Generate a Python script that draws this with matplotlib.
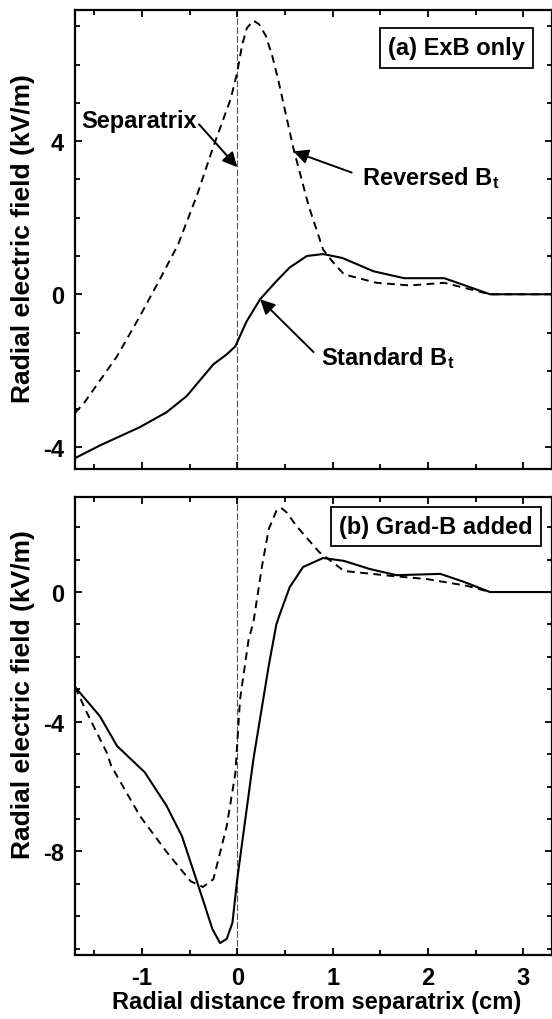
import matplotlib
matplotlib.use("Agg")
import matplotlib.pyplot as plt
from matplotlib.ticker import MultipleLocator

plt.rcParams['font.family'] = ['Liberation Sans', 'DejaVu Sans']
plt.rcParams['font.weight'] = 'bold'
plt.rcParams['axes.unicode_minus'] = False
plt.rcParams['mathtext.fontset'] = 'custom'
plt.rcParams['mathtext.rm'] = 'Liberation Sans:bold'
plt.rcParams['mathtext.it'] = 'Liberation Sans:bold'
plt.rcParams['mathtext.bf'] = 'Liberation Sans:bold'
plt.rcParams['mathtext.default'] = 'regular'

# (a) ExB only - standard Bt (solid)
xa_std = [-1.7, -1.44, -1.02, -0.74, -0.53, -0.25, -0.11, -0.02, 0.1, 0.24, 0.41, 0.55, 0.73, 0.9, 1.1,
          1.43, 1.75, 2.17, 2.4, 2.65, 3.3]
ea_std = [-4.28, -3.95, -3.47, -3.08, -2.66, -1.83, -1.57, -1.36, -0.7, -0.13, 0.34, 0.7, 1.0, 1.05, 0.95,
          0.6, 0.42, 0.42, 0.22, 0.0, 0.0]

# (a) ExB only - reversed Bt (dashed)
xa_rev = [-1.7, -1.6, -1.26, -1.02, -0.82, -0.62, -0.42, -0.25, -0.07, 0.0, 0.05, 0.1, 0.17, 0.23, 0.3,
          0.37, 0.43, 0.59, 0.75, 0.9, 1.0, 1.12, 1.46, 1.81, 2.17, 2.41, 2.65, 3.3]
ea_rev = [-3.1, -2.82, -1.62, -0.57, 0.35, 1.3, 2.6, 3.86, 5.09, 5.8, 6.5, 6.95, 7.15, 7.05, 6.75,
          6.2, 5.6, 3.8, 2.3, 1.17, 0.85, 0.52, 0.3, 0.23, 0.3, 0.15, 0.0, 0.0]

# (b) Grad-B added - standard Bt (solid)
xb_std = [-1.7, -1.44, -1.26, -0.97, -0.74, -0.58, -0.42, -0.26, -0.18, -0.11, -0.05, 0.0, 0.17, 0.33,
          0.41, 0.44, 0.55, 0.69, 0.9, 1.12, 1.39, 1.67, 2.13, 2.38, 2.65, 3.3]
eb_std = [-2.93, -3.83, -4.75, -5.56, -6.6, -7.53, -8.95, -10.4, -10.83, -10.7, -10.2, -8.86, -5.15, -2.28,
          -1.0, -0.74, 0.15, 0.77, 1.05, 0.96, 0.71, 0.52, 0.56, 0.31, 0.0, 0.0]

# (b) Grad-B added - reversed Bt (dashed)
xb_rev = [-1.7, -1.58, -1.37, -1.32, -1.02, -0.74, -0.49, -0.36, -0.25, -0.11, -0.02, 0.03, 0.12, 0.17,
          0.26, 0.33, 0.41, 0.46, 0.52, 0.62, 0.86, 1.12, 1.64, 1.99, 2.41, 2.65, 3.3]
eb_rev = [-2.93, -3.7, -4.94, -5.37, -6.91, -8.02, -8.92, -9.1, -8.86, -7.22, -5.6, -3.3, -1.45, -0.93,
          0.8, 1.94, 2.5, 2.6, 2.45, 2.04, 1.23, 0.65, 0.49, 0.4, 0.19, 0.0, 0.0]

fig = plt.figure(figsize=(5.52, 10.2), dpi=100)
ax1 = fig.add_axes([0.136, 0.539, 0.864, 0.450])
ax2 = fig.add_axes([0.136, 0.0627, 0.864, 0.449])

for ax in (ax1, ax2):
    ax.axvline(0, color='#555555', lw=0.8, linestyle=(0, (6, 2)), zorder=1)
    ax.set_xlim(-1.7, 3.3)
    ax.xaxis.set_major_locator(MultipleLocator(1))
    ax.xaxis.set_minor_locator(MultipleLocator(0.5))
    ax.yaxis.set_major_locator(MultipleLocator(4))
    ax.yaxis.set_minor_locator(MultipleLocator(1))
    ax.tick_params(which='both', direction='in', top=True, right=True, width=1.3)
    ax.tick_params(which='major', length=5, labelsize=17, pad=8)
    ax.tick_params(which='minor', length=3.5)
    for s in ax.spines.values():
        s.set_linewidth(1.6)
    ax.set_ylabel('Radial electric field (kV/m)', fontsize=19, fontweight='bold')

ax1.plot(xa_std, ea_std, color='black', lw=1.5)
ax1.plot(xa_rev, ea_rev, color='black', lw=1.4, dashes=(4, 2.8))
ax1.set_ylim(-4.57, 7.42)
ax1.tick_params(labelbottom=False)
ax1.yaxis.set_label_coords(-0.085, 0.505)

ax1.text(0.80, 0.918, '(a) ExB only', transform=ax1.transAxes, fontsize=17, fontweight='bold',
         ha='center', va='center',
         bbox=dict(boxstyle='square,pad=0.35', facecolor='white', edgecolor='black', lw=1.3))

arrow = dict(arrowstyle='-|>', color='black', lw=1.4, mutation_scale=22, shrinkA=0, shrinkB=0)
ax1.text(-1.63, 4.36, 'Separatrix', fontsize=17, fontweight='bold', ha='left', va='baseline')
ax1.annotate('', xy=(0.0, 3.32), xytext=(-0.4, 4.44), arrowprops=arrow)
ax1.text(1.31, 2.87, 'Reversed B$_t$', fontsize=17, fontweight='bold', ha='left', va='baseline')
ax1.annotate('', xy=(0.59, 3.73), xytext=(1.2, 3.18), arrowprops=arrow)
ax1.text(0.88, -1.83, 'Standard B$_t$', fontsize=17, fontweight='bold', ha='left', va='baseline')
ax1.annotate('', xy=(0.24, -0.13), xytext=(0.8, -1.51), arrowprops=arrow)

ax2.plot(xb_std, eb_std, color='black', lw=1.5)
ax2.plot(xb_rev, eb_rev, color='black', lw=1.4, dashes=(4, 2.8))
ax2.set_ylim(-11.2, 2.93)
ax2.yaxis.set_label_coords(-0.085, 0.57)
ax2.set_xlabel('Radial distance from separatrix (cm)', fontsize=17, fontweight='bold')
ax2.xaxis.set_label_coords(0.506, -0.076)

ax2.text(0.757, 0.936, '(b) Grad-B added', transform=ax2.transAxes, fontsize=17, fontweight='bold',
         ha='center', va='center',
         bbox=dict(boxstyle='square,pad=0.35', facecolor='white', edgecolor='black', lw=1.3))

fig.savefig('out.png', dpi=100)
